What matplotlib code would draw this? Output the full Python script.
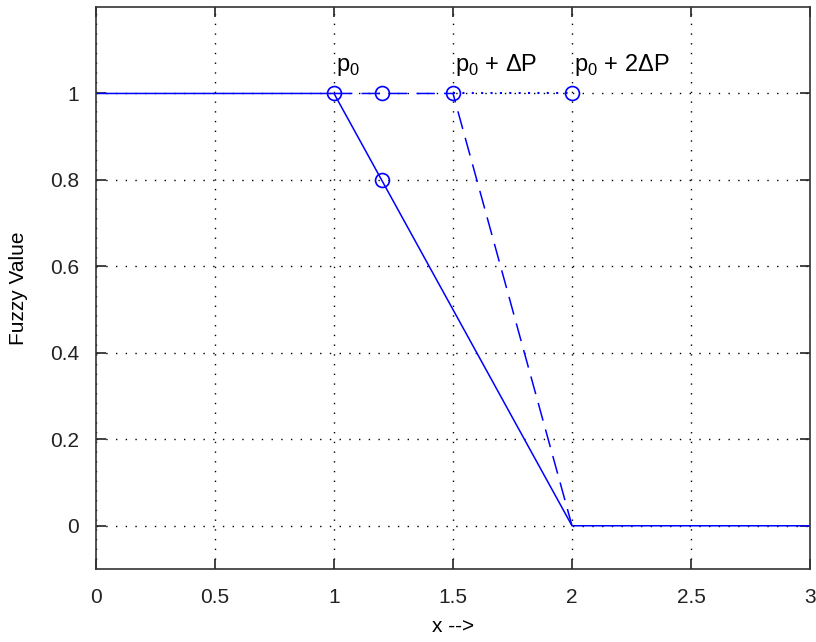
import matplotlib
matplotlib.use("Agg")
import matplotlib.pyplot as plt

# membership curves
x_solid = [0, 1, 2, 3]
y_solid = [1, 1, 0, 0]
x_dash = [1, 1.5, 2]
y_dash = [1, 1, 0]
x_dot = [1.5, 2]
y_dot = [1, 1]

# circle markers
mark_x = [1, 1.2, 1.5, 2, 1.2]
mark_y = [1, 1, 1, 1, 0.8]

# annotations
label_x = [1, 1.5, 2]
label_y = [1.035, 1.035, 1.035]
label_txt = ["p$_\\mathregular{0}$", "p$_\\mathregular{0}$ + \u0394P", "p$_\\mathregular{0}$ + 2\u0394P"]

plt.rcParams["font.family"] = ["Liberation Sans", "DejaVu Sans"]
plt.rcParams["mathtext.fontset"] = "custom"
plt.rcParams["mathtext.rm"] = "Liberation Sans"

fig = plt.figure(figsize=(8.16, 6.42), dpi=100)
ax = fig.add_axes([96 / 816, 1 - 569 / 642, (810 - 96) / 816, (569 - 7) / 642])

ax.plot(x_solid, y_solid, "-", color="blue", lw=1.1)
ax.plot(x_dash, y_dash, color="blue", lw=1.1, linestyle=(0, (12, 6)))
ax.plot(x_dot, y_dot, color="blue", lw=1.5, linestyle=(0, (1, 3.5)))
ax.plot(mark_x, mark_y, "o", color="blue", mfc="none", ms=10, mew=1.2)

for tx, ty, t in zip(label_x, label_y, label_txt):
    ax.text(tx + 0.01, ty, t, fontsize=17, va="bottom", ha="left")

ax.set_xlim(0, 3)
ax.set_ylim(-0.1, 1.2)
ax.set_xticks([0, 0.5, 1, 1.5, 2, 2.5, 3])
ax.set_xticklabels(["0", "0.5", "1", "1.5", "2", "2.5", "3"])
ax.set_yticks([0, 0.2, 0.4, 0.6, 0.8, 1])
ax.set_yticklabels(["0", "0.2", "0.4", "0.6", "0.8", "1"])
ax.grid(True, color="black", linestyle=(0, (1, 6)), lw=1.0)
ax.tick_params(axis="both", direction="in", length=7, width=1.2, labelsize=15,
               top=True, right=True, colors="#222222")
ax.tick_params(axis="x", pad=14)
ax.tick_params(axis="y", pad=12)
for s in ax.spines.values():
    s.set_linewidth(1.2)
    s.set_color("#333333")

ax.set_xlabel("x -->", fontsize=15, labelpad=7)
ax.set_ylabel("Fuzzy Value", fontsize=15, labelpad=16)

fig.savefig("out.png", dpi=100)
